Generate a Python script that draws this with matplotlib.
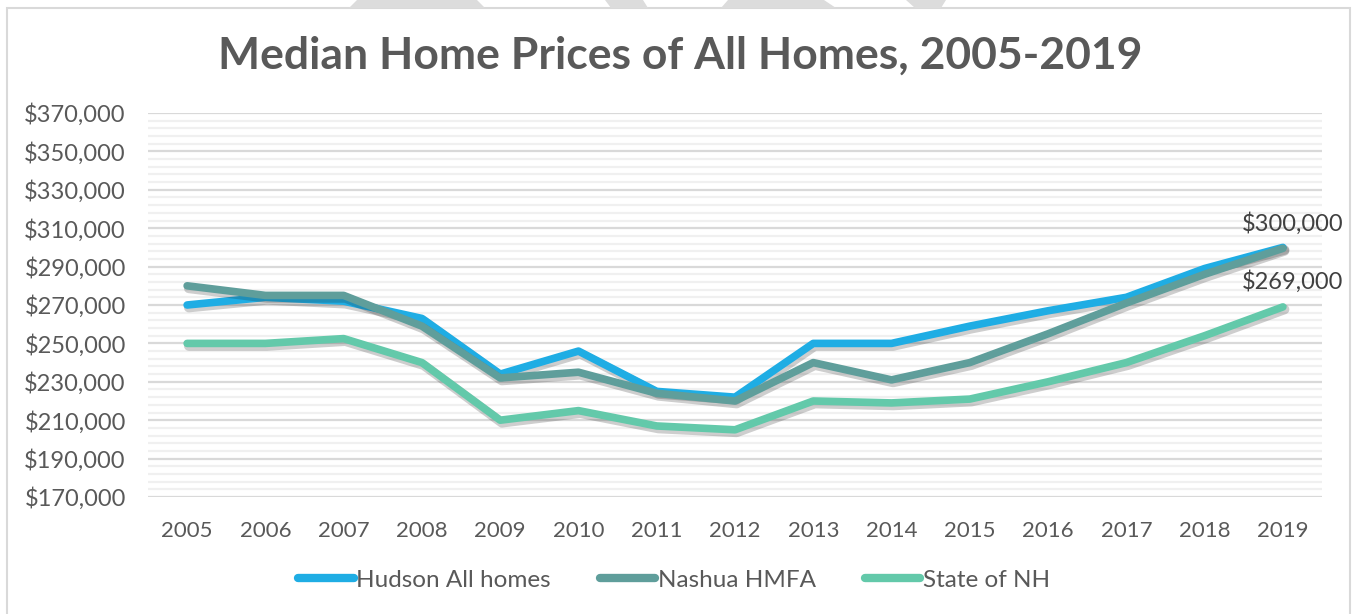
import matplotlib
matplotlib.use("Agg")
import matplotlib.pyplot as plt
import matplotlib.patheffects as pe
from matplotlib.patches import Polygon, Rectangle
from matplotlib.ticker import FixedLocator, FuncFormatter
import numpy as np

years = ["2005", "2006", "2007", "2008", "2009", "2010", "2011", "2012",
         "2013", "2014", "2015", "2016", "2017", "2018", "2019"]
hudson = [270000, 274000, 272000, 263000, 234000, 246000, 225000, 222000,
          250000, 250000, 259000, 267000, 274000, 289000, 300000]
nashua = [280000, 275000, 275000, 259000, 232000, 235000, 224000, 220000,
          240000, 231000, 240000, 255000, 271000, 286000, 299500]
state = [250000, 250000, 252500, 240000, 210000, 215000, 207000, 205000,
         220000, 219000, 221000, 230000, 240000, 254000, 269000]
series_names = ["Hudson All homes", "Nashua HMFA", "State of NH"]
colors = ["#1FADE4", "#5F9E9B", "#63C9AA"]
labels_end = ["$300,000", "$269,000"]

plt.rcParams['font.family'] = ['Lato', 'DejaVu Sans']
W, H = 1354, 614
fig = plt.figure(figsize=(W / 100, H / 100), dpi=100)
fig.patch.set_facecolor("white")

# outer frame and decorative shapes at the top
fig.patches.append(Rectangle((7 / W, -0.05), (1350 - 7) / W, 1 - 8 / H + 0.05,
                             transform=fig.transFigure, fill=False,
                             edgecolor="#D9D9D9", linewidth=1.5, zorder=0))
shapes = [[(357, 0), (477, 0), (485, 8), (349, 8)],
          [(605, 0), (643, 0), (648, 8), (611, 8)],
          [(728, 0), (824, 0), (836, 8), (721, 8)],
          [(906, 0), (946, 0), (941, 8), (915, 8)]]
for s in shapes:
    pts = [(x / W, 1 - y / H) for x, y in s]
    fig.patches.append(Polygon(pts, closed=True, transform=fig.transFigure,
                               facecolor="#DCDCDC", edgecolor="none", zorder=0))

left, right = 148 / W, 1322 / W
bottom, top = 1 - 497 / H, 1 - 113 / H
ax = fig.add_axes([left, bottom, right - left, top - bottom])
ax.set_facecolor("none")

x = np.arange(len(years))
data = [hudson, nashua, state]
for i, (vals, name, c) in enumerate(zip(data, series_names, colors)):
    ax.plot(x, vals, color=c, linewidth=5.5, solid_capstyle="round",
            solid_joinstyle="round", label=name, zorder=3 + i,
            path_effects=[pe.SimpleLineShadow(offset=(1.2, -1.8), alpha=0.22,
                                              shadow_color="#202020",
                                              linewidth=7),
                          pe.Normal()])

ax.set_xlim(-0.5, len(years) - 0.5)
ax.set_ylim(170000, 370000)
ax.yaxis.set_major_locator(FixedLocator(np.arange(170000, 370001, 20000)))
ax.yaxis.set_minor_locator(FixedLocator(np.arange(170000, 370001, 4000)))
ax.yaxis.set_major_formatter(FuncFormatter(lambda v, p: f"${v:,.0f}"))
ax.set_xticks(x)
ax.set_xticklabels(years)
ax.grid(which="major", axis="y", color="#D9D9D9", linewidth=1.6, zorder=1)
ax.grid(which="minor", axis="y", color="#F0F0F0", linewidth=1.6, zorder=1)
ax.grid(which="major", axis="x", visible=False)
for sp in ax.spines.values():
    sp.set_visible(False)
ax.tick_params(axis="both", which="both", length=0, colors="#595959")
ax.tick_params(axis="y", labelsize=17, pad=16)
ax.tick_params(axis="x", labelsize=16, pad=17)

# end labels
ax.annotate(labels_end[0], (x[-1], hudson[-1]), xytext=(7, 17.3),
            textcoords="offset points", ha="center", va="center",
            fontsize=17, color="#404040", zorder=10)
ax.annotate(labels_end[1], (x[-1], state[-1]), xytext=(7, 18.3),
            textcoords="offset points", ha="center", va="center",
            fontsize=17, color="#404040", zorder=10)

fig.text(680 / W, 1 - 56 / H, "Median Home Prices of All Homes, 2005-2019",
         ha="center", va="center", fontsize=32, fontweight="bold",
         color="#595959")

leg = fig.legend(loc="center", bbox_to_anchor=(674 / W, 1 - 580 / H),
                 ncol=3, frameon=False, fontsize=17.5, handlelength=2.3,
                 handletextpad=0.1, columnspacing=2.0)
for t in leg.get_texts():
    t.set_color("#595959")
for l in leg.get_lines():
    l.set_linewidth(6)
    l.set_path_effects([])
    l.set_solid_capstyle("round")

fig.savefig("out.png", dpi=100, facecolor="white")
